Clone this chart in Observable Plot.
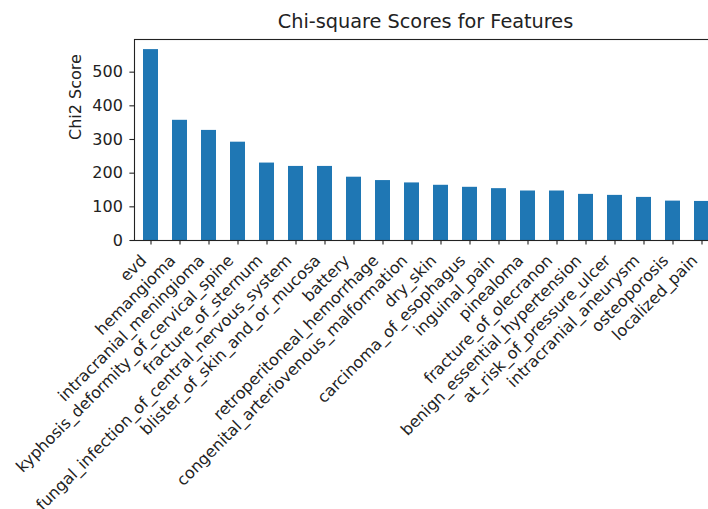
<!DOCTYPE html>
<html>
<head>
<meta charset="utf-8">
<script src="https://cdn.jsdelivr.net/npm/d3@7"></script>
<script src="https://cdn.jsdelivr.net/npm/@observablehq/plot@0.6"></script>
<style>
  html, body { margin: 0; padding: 0; background: #fff; overflow: hidden; }
  #wrap { width: 717px; }
  #title {
    box-sizing: border-box; height: 32px; padding: 12px 0 0 134px;
    font-family: "DejaVu Sans", sans-serif; font-size: 19.3px; line-height: 20px;
    color: #222; text-align: center; white-space: nowrap;
  }
  #title span { display: inline-block; width: 583px; }
</style>
</head>
<body>
<div id="wrap">
  <div id="title"><span>Chi-square Scores for Features</span></div>
  <div id="chart"></div>
</div>
<script>
const names = [
  "evd", "hemangioma", "intracranial_meningioma", "kyphosis_deformity_of_cervical_spine",
  "fracture_of_sternum", "fungal_infection_of_central_nervous_system", "blister_of_skin_and_or_mucosa",
  "battery", "retroperitoneal_hemorrhage", "congenital_arteriovenous_malformation", "dry_skin",
  "carcinoma_of_esophagus", "inguinal_pain", "pinealoma", "fracture_of_olecranon",
  "benign_essential_hypertension", "at_risk_of_pressure_ulcer", "intracranial_aneurysm",
  "osteoporosis", "localized_pain"
];
const scores = [567, 357, 327, 292, 230, 220, 220, 188, 178, 171, 164, 158, 154, 147, 147, 137, 134, 128, 117, 116];
const yTicks = [0, 100, 200, 300, 400, 500];
const yLabel = "Chi2 Score";

const data = names.map((n, i) => ({name: n, score: scores[i]}));
const FONT = "DejaVu Sans, sans-serif";
const FS = 16;

const chart = Plot.plot({
  width: 717,
  height: 477,
  marginTop: 7,
  marginBottom: 269,
  marginLeft: 134,
  marginRight: 0,
  style: {fontFamily: FONT, fontSize: FS + "px", color: "#222", background: "transparent", overflow: "visible"},
  x: {type: "band", domain: names, paddingInner: 0.5, paddingOuter: 0.25, align: 0.5, label: null},
  y: {domain: [0, 597], label: null},
  marks: [
    Plot.barY(data, {x: "name", y: "score", fill: "#1f77b4"}),
    Plot.axisY({ticks: yTicks, tickSize: 4.6, tickPadding: 7, label: null, fontSize: FS, strokeWidth: 1.1, stroke: "#222"}),
    Plot.axisX({tickSize: 4.6, tickFormat: () => "", label: null, strokeWidth: 1.1, stroke: "#222"}),
    Plot.text(names, {x: d => d, frameAnchor: "bottom", rotate: -45, textAnchor: "end", lineAnchor: "bottom", dx: -3.5, dy: 21, fontSize: FS, fill: "#222"}),
    Plot.text([yLabel], {frameAnchor: "left", rotate: -90, dx: -59, fontSize: FS, fill: "#222"}),
    Plot.frame({stroke: "#222", strokeWidth: 1.1})
  ]
});
document.getElementById("chart").appendChild(chart);
</script>
</body>
</html>
